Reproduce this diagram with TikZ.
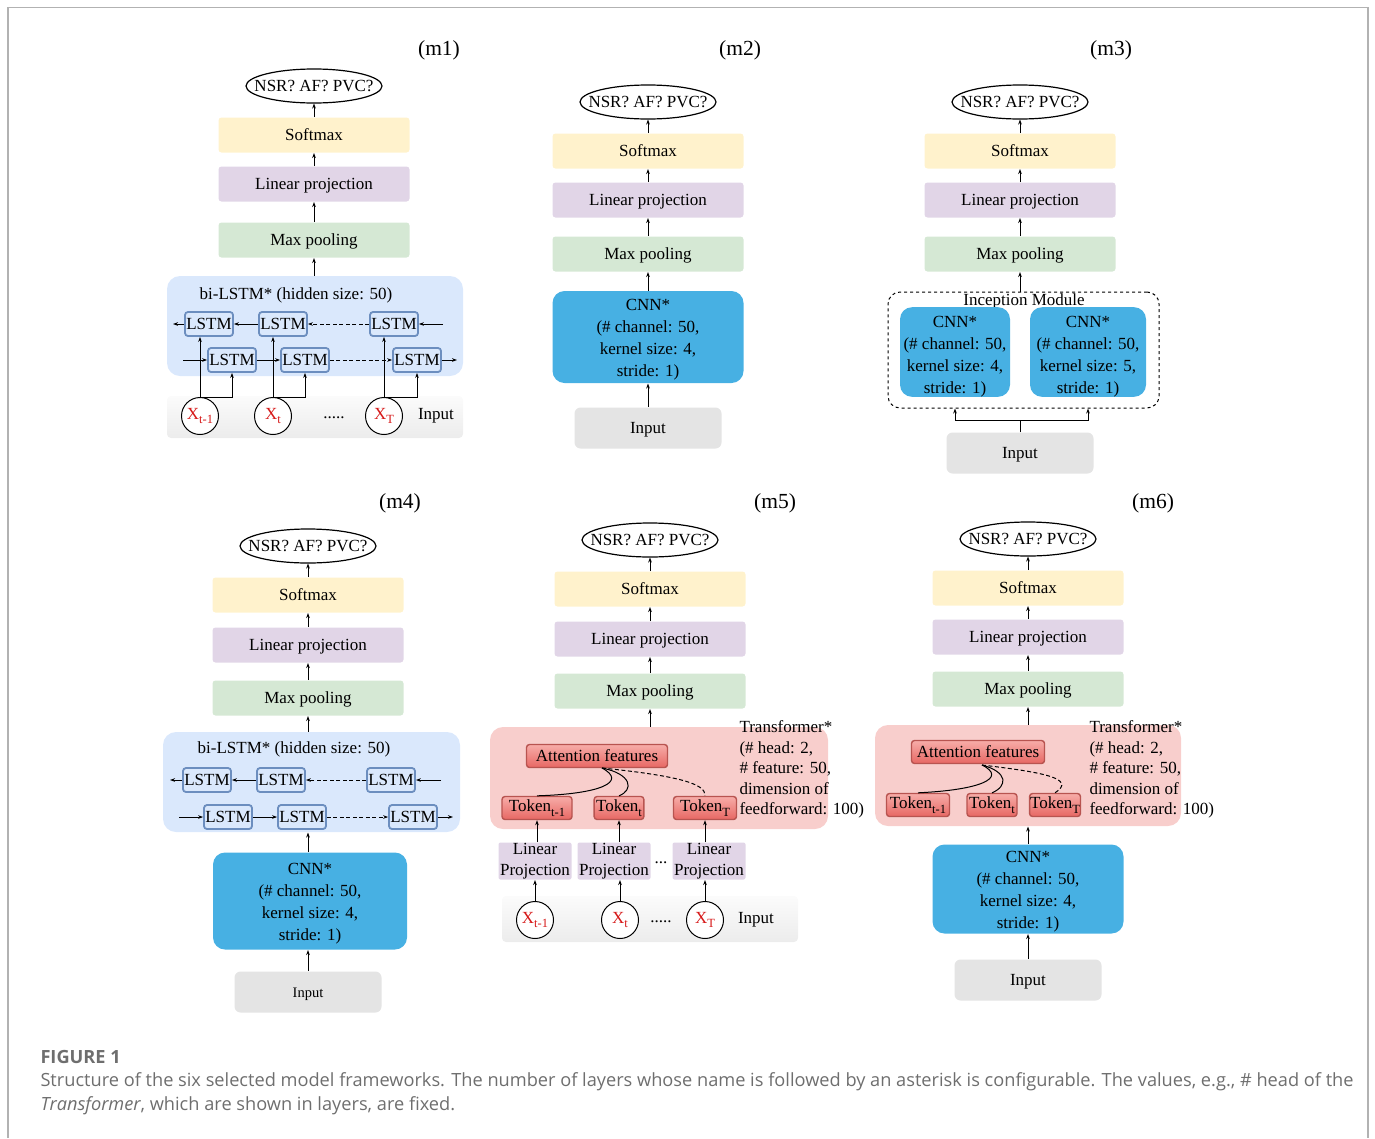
\documentclass[tikz,border=0pt]{standalone}
\usepackage{fontspec}
\setmainfont{Liberation Serif}
\newfontfamily\capfont{Open Sans}
\usetikzlibrary{arrows.meta}

\definecolor{softyel}{HTML}{FFF2CC}
\definecolor{linpur}{HTML}{E1D5E7}
\definecolor{poolgrn}{HTML}{D5E8D4}
\definecolor{lstmfill}{HTML}{DAE8FC}
\definecolor{lstmedge}{HTML}{6C8EBF}
\definecolor{cnnblue}{RGB}{71,176,227}
\definecolor{ingray}{RGB}{228,228,228}
\definecolor{trfill}{HTML}{F8CECC}
\definecolor{tokA}{RGB}{247,172,168}
\definecolor{tokB}{RGB}{231,104,99}
\definecolor{tokedge}{HTML}{B85450}
\definecolor{xred}{RGB}{215,25,25}
\definecolor{capgray}{RGB}{110,110,110}

\newcommand{\lowix}[1]{\raisebox{-0.28em}{\fontsize{12.5}{13}\selectfont #1}}

\begin{document}
\begin{tikzpicture}[x=1pt, y=-1pt, font=\fontsize{17}{20.5}\selectfont,
  >={Stealth[length=5pt, width=3.6pt]}, line width=1pt,
  panel/.style={font=\fontsize{21.5}{24}\selectfont},
  outnode/.style={minimum width=136, minimum height=34, inner sep=0},
  layer/.style={rounded corners=3, minimum width=191, minimum height=35, inner sep=0,
    text height=12, text depth=1},
  cnn/.style={fill=cnnblue, rounded corners=12, inner sep=0, align=center,
    font=\fontsize{17}{22}\selectfont},
  inbox/.style={fill=ingray, rounded corners=6, minimum width=147, minimum height=41,
    inner sep=0, text height=12, text depth=1},
  lstmgrp/.style={fill=lstmfill, rounded corners=13},
  lstm/.style={draw=lstmedge, line width=1.8, fill=lstmfill, rounded corners=3,
    inner sep=1, minimum width=48, minimum height=24},
  strip/.style={top color=gray!3, bottom color=gray!15, rounded corners=4},
  xc/.style={circle, draw, fill=white, minimum size=37, inner sep=0, text=xred},
  incep/.style={draw, dashed, rounded corners=12},
  trgrp/.style={fill=trfill, rounded corners=13},
  trtext/.style={anchor=north west, inner sep=0, align=left},
  tok/.style={draw=tokedge, line width=1.4, top color=tokA, bottom color=tokB,
    rounded corners=3, inner xsep=2, inner ysep=0, minimum height=23},
  proj/.style={fill=linpur, rounded corners=2, inner sep=0, align=center,
    minimum width=73, minimum height=37, font=\fontsize{17}{21}\selectfont},
  dsh/.style={dash pattern=on 4pt off 2.5pt},
  captxt/.style={anchor=west, inner sep=0, text=capgray, font=\capfont\fontsize{18.2}{22}\selectfont}]
\useasboundingbox (0,0) rectangle (1375,1138);
\draw[gray!60, line width=1.2] (8,1138) -- (8,7.5) -- (1368,7.5) -- (1368,1138);

% (m1) bi-LSTM
\node[panel] (m1) at (439,50) {(m1)};
\node[outnode] (o1) at (314,86) {NSR? AF? PVC?};
\node[layer, fill=softyel] (s1) at (314,135) {Softmax};
\node[layer, fill=linpur] (l1) at (314,184) {Linear projection};
\node[layer, fill=poolgrn] (p1) at (314,240) {Max pooling};
\node[lstmgrp, minimum width=296, minimum height=100] (g1) at (315,326) {};
\node (t1) at (296,295) {bi-LSTM* (hidden size: 50)};
\node[lstm] (b11) at (209,324) {LSTM};
\node[lstm] (b12) at (283,324) {LSTM};
\node[lstm] (b13) at (394,324) {LSTM};
\node[lstm] (f11) at (232,360) {LSTM};
\node[lstm] (f12) at (305,360) {LSTM};
\node[lstm] (f13) at (417,360) {LSTM};
\coordinate (bl1) at (173,324); \coordinate (br1) at (443,324);
\coordinate (fl1) at (183,360); \coordinate (fr1) at (457,360);
\node[strip, minimum width=296, minimum height=42] (i1) at (315,417) {};
\node[xc] (x11) at (200,416) {X\lowix{t-1}};
\node[xc] (x12) at (273,416) {X\lowix{t}};
\node[xc] (x13) at (384,416) {X\lowix{T}};
\node (d1) at (334,418) {.....};
\node (n1) at (436,416) {Input};
\draw[->] (s1) -- (o1);
\draw[->] (l1) -- (s1);
\draw[->] (p1) -- (l1);
\draw[->] (p1.south |- g1.north) -- (p1.south);
\draw[->] (b11) -- (bl1);
\draw[->] (b12) -- (b11);
\draw[->, dsh] (b13) -- (b12);
\draw[->] (br1) -- (b13);
\draw[->] (fl1) -- (f11);
\draw[->] (f11) -- (f12);
\draw[->, dsh] (f12) -- (f13);
\draw[->] (f13) -- (fr1);
\draw[->] (x11.north) -- (x11.north |- b11.south);
\draw[->] (x11.north) -| (f11.south);
\draw[->] (x12.north) -- (x12.north |- b12.south);
\draw[->] (x12.north) -| (f12.south);
\draw[->] (x13.north) -- (x13.north |- b13.south);
\draw[->] (x13.north) -| (f13.south);

% (m2) CNN
\node[panel] (m2) at (740,50) {(m2)};
\node[outnode] (o2) at (648,102) {NSR? AF? PVC?};
\node[layer, fill=softyel] (s2) at (648,151) {Softmax};
\node[layer, fill=linpur] (l2) at (648,200) {Linear projection};
\node[layer, fill=poolgrn] (p2) at (648,254) {Max pooling};
\node[cnn, minimum width=191, minimum height=92] (c2) at (648,337) {\rule{0pt}{16pt}CNN*\\(\# channel: 50,\\kernel size: 4,\\stride: 1)};
\node[inbox] (i2) at (648,428) {Input};
\draw[->] (s2) -- (o2);
\draw[->] (l2) -- (s2);
\draw[->] (p2) -- (l2);
\draw[->] (c2) -- (p2);
\draw[->] (i2) -- (c2);

% (m3) Inception
\node[panel] (m3) at (1111,50) {(m3)};
\node[outnode] (o3) at (1020,102) {NSR? AF? PVC?};
\node[layer, fill=softyel] (s3) at (1020,151) {Softmax};
\node[layer, fill=linpur] (l3) at (1020,200) {Linear projection};
\node[layer, fill=poolgrn] (p3) at (1020,254) {Max pooling};
\node[incep, minimum width=271, minimum height=116] (g3) at (1023.5,350) {};
\node (t3) at (1024,301) {Inception Module};
\node[cnn, minimum width=110, minimum height=85] (c31) at (955,352) {\rule{0pt}{20pt}CNN*\\(\# channel: 50,\\kernel size: 4,\\stride: 1)};
\node[cnn, minimum width=116, minimum height=85] (c32) at (1088,352) {\rule{0pt}{20pt}CNN*\\(\# channel: 50,\\kernel size: 5,\\stride: 1)};
\node[inbox] (i3) at (1020,453) {Input};
\draw[->] (s3) -- (o3);
\draw[->] (l3) -- (s3);
\draw[->] (p3) -- (l3);
\draw[->] (p3.south |- g3.north) -- (p3.south);
\draw[->] (i3.north) -- ++(0,-12) -| (c31.south |- g3.south);
\draw[->] (i3.north) -- ++(0,-12) -| (c32.south |- g3.south);

% (m4) CNN + bi-LSTM
\node[panel] (m4) at (400,503) {(m4)};
\node[outnode] (o4) at (308,546) {NSR? AF? PVC?};
\node[layer, fill=softyel] (s4) at (308,595) {Softmax};
\node[layer, fill=linpur] (l4) at (308,645) {Linear projection};
\node[layer, fill=poolgrn] (p4) at (308,698) {Max pooling};
\node[lstmgrp, minimum width=297, minimum height=100] (g4) at (311.5,782) {};
\node (t4) at (294,749) {bi-LSTM* (hidden size: 50)};
\node[lstm] (b41) at (207,780) {LSTM};
\node[lstm] (b42) at (281,780) {LSTM};
\node[lstm] (b43) at (391,780) {LSTM};
\node[lstm] (f41) at (228,817) {LSTM};
\node[lstm] (f42) at (302,817) {LSTM};
\node[lstm] (f43) at (413,817) {LSTM};
\coordinate (bl4) at (170,780); \coordinate (br4) at (441,780);
\coordinate (fl4) at (179,817); \coordinate (fr4) at (453,817);
\node[cnn, minimum width=194, minimum height=97] (c4) at (310,901) {\rule{0pt}{16pt}CNN*\\(\# channel: 50,\\kernel size: 4,\\stride: 1)};
\node[inbox, font=\fontsize{14.5}{17}\selectfont] (i4) at (308,992) {Input};
\draw[->] (s4) -- (o4);
\draw[->] (l4) -- (s4);
\draw[->] (p4) -- (l4);
\draw[->] (p4.south |- g4.north) -- (p4.south);
\draw[->] (b41) -- (bl4);
\draw[->] (b42) -- (b41);
\draw[->, dsh] (b43) -- (b42);
\draw[->] (br4) -- (b43);
\draw[->] (fl4) -- (f41);
\draw[->] (f41) -- (f42);
\draw[->, dsh] (f42) -- (f43);
\draw[->] (f43) -- (fr4);
\draw[->] (p4.south |- c4.north) -- (p4.south |- g4.south);
\draw[->] (i4) -- (i4 |- c4.south);

% (m5) Transformer
\node[panel] (m5) at (775,503) {(m5)};
\node[outnode] (o5) at (650,540) {NSR? AF? PVC?};
\node[layer, fill=softyel] (s5) at (650,589) {Softmax};
\node[layer, fill=linpur] (l5) at (650,639) {Linear projection};
\node[layer, fill=poolgrn] (p5) at (650,691) {Max pooling};
\node[trgrp, minimum width=338, minimum height=102] (g5) at (659,778) {};
\node[trtext] (t5) at (739,720.5) {Transformer*\\(\# head: 2,\\\# feature: 50,\\dimension of\\feedforward: 100)};
\node[tok, minimum width=141] (a5) at (597,756) {Attention features};
\node[tok, minimum width=70] (k51) at (537,808) {Token\lowix{t-1}};
\node[tok, minimum width=48] (k52) at (619,808) {Token\lowix{t}};
\node[tok, minimum width=63] (k53) at (705,808) {Token\lowix{T}};
\coordinate (h5) at (602,768);
\node[proj] (q51) at (535,861) {Linear\\Projection};
\node[proj] (q52) at (614,861) {Linear\\Projection};
\node[proj] (q53) at (709,861) {Linear\\Projection};
\node (e5) at (661,863) {...};
\node[strip, minimum width=296, minimum height=46] (i5) at (650,919) {};
\node[xc] (x51) at (535,920) {X\lowix{t-1}};
\node[xc] (x52) at (620,920) {X\lowix{t}};
\node[xc] (x53) at (705,920) {X\lowix{T}};
\node (d5) at (661,922) {.....};
\node (n5) at (756,920) {Input};
\draw[->] (s5) -- (o5);
\draw[->] (l5) -- (s5);
\draw[->] (p5) -- (l5);
\draw[->] (p5.south |- g5.north) -- (p5.south);
\draw (h5) .. controls (628,782) and (600,794) .. (k51.north);
\draw (h5) .. controls (632,774) and (634,790) .. (k52.north);
\draw[dsh] (h5) .. controls (680,776) and (706,784) .. (k53.north);
\draw[->] (k51.south |- q51.north) -- (k51.south);
\draw[->] (k52.south |- q52.north) -- (k52.south);
\draw[->] (k53.south |- q53.north) -- (k53.south);
\draw[->] (x51.north) -- (x51.north |- q51.south);
\draw[->] (x52.north) -- (x52.north |- q52.south);
\draw[->] (x53.north) -- (x53.north |- q53.south);

% (m6) CNN + Transformer
\node[panel] (m6) at (1153,503) {(m6)};
\node[outnode] (o6) at (1028,539) {NSR? AF? PVC?};
\node[layer, fill=softyel] (s6) at (1028,588) {Softmax};
\node[layer, fill=linpur] (l6) at (1028,637) {Linear projection};
\node[layer, fill=poolgrn] (p6) at (1028,689) {Max pooling};
\node[trgrp, minimum width=306, minimum height=101] (g6) at (1028,775.5) {};
\node[trtext] (t6) at (1089,720.5) {Transformer*\\(\# head: 2,\\\# feature: 50,\\dimension of\\feedforward: 100)};
\node[tok, minimum width=133] (a6) at (978,752) {Attention features};
\node[tok, inner xsep=0.5, minimum width=63] (k61) at (918,805) {Token\lowix{t-1}};
\node[tok, inner xsep=0.5, minimum width=50] (k62) at (992,805) {Token\lowix{t}};
\node[tok, inner xsep=0.5, minimum width=50] (k63) at (1055,805) {Token\lowix{T}};
\coordinate (h6) at (982,765);
\node[cnn, minimum width=191, minimum height=89] (c6) at (1028,889) {\rule{0pt}{16pt}CNN*\\(\# channel: 50,\\kernel size: 4,\\stride: 1)};
\node[inbox] (i6) at (1028,980) {Input};
\draw[->] (s6) -- (o6);
\draw[->] (l6) -- (s6);
\draw[->] (p6) -- (l6);
\draw[->] (p6.south |- g6.north) -- (p6.south);
\draw (h6) .. controls (1008,778) and (980,790) .. (k61.north);
\draw (h6) .. controls (1008,772) and (1008,786) .. (k62.north);
\draw[dsh] (h6) .. controls (1040,772) and (1078,778) .. (k63.north);
\draw[->] (c6) -- (c6 |- g6.south);
\draw[->] (i6) -- (c6);

\foreach \o in {o1,o2,o3,o4,o5,o6}
  \draw[line width=1.2] (\o.center) ellipse [x radius=68pt, y radius=17pt];

% caption
\node[captxt, font=\capfont\bfseries\fontsize{18.2}{22}\selectfont] (cf) at (40,1057) {FIGURE 1};
\node[captxt] (cl1) at (40,1082) {Structure of the six selected model frameworks. The number of layers whose name is followed by an asterisk is configurable. The values, e.g., \# head of the};
\node[captxt] (cl2) at (40,1106) {\textit{Transformer}, which are shown in layers, are fixed.};
\end{tikzpicture}
\end{document}
